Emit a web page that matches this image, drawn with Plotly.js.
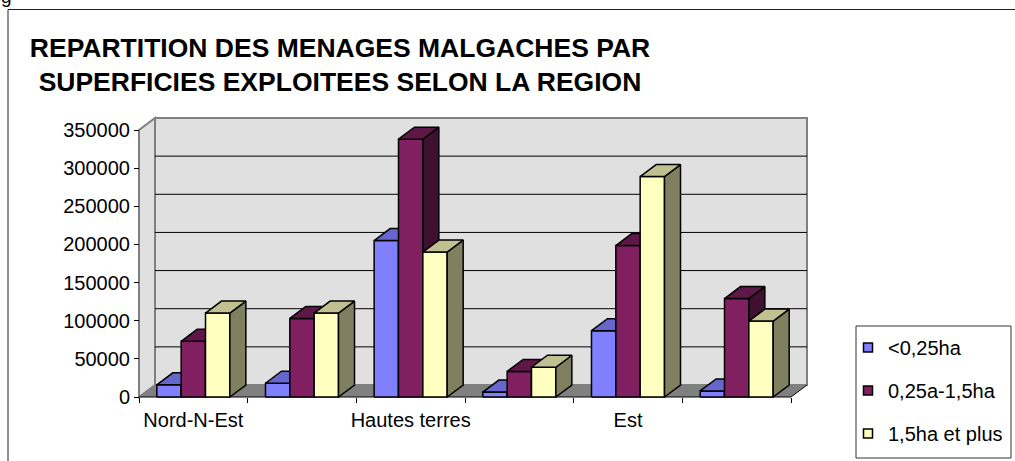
<!DOCTYPE html>
<html><head><meta charset="utf-8">
<script src="https://cdn.plot.ly/plotly-3.0.1.min.js"></script>
<style>html,body{margin:0;padding:0;background:#fff}#chart{width:1015px;height:461px}</style>
</head><body><div id="chart"></div>
<script>
// ---------- data ----------
const categories = ['Nord-N-Est', 'Nord-Ouest', 'Hautes terres', 'Moyen-Ouest', 'Est', 'Sud'];
const shownLabelIndex = [0, 2, 4];
const seriesNames = ['<0,25ha', '0,25a-1,5ha', '1,5ha et plus'];
const lessThan025ha = [16000, 18000, 205000, 6500, 87000, 8000];
const from025to15ha = [73000, 103000, 338000, 33500, 198500, 129000];
const over15ha = [110000, 110000, 190000, 39000, 289000, 99500];
const yTickValues = [0, 50000, 100000, 150000, 200000, 250000, 300000, 350000];
const yMax = 350000;

// ---------- styles ----------
const FONT = 'Arial, "Liberation Sans", sans-serif';
const faceColors = [
  {front: '#8080FF', top: '#6666CC', side: '#40408A'},
  {front: '#802060', top: '#5E1848', side: '#401030'},
  {front: '#FFFFC0', top: '#C0C090', side: '#808060'}
];
const seriesValues = [lessThan025ha, from025to15ha, over15ha];

// pixel geometry of the front plane and the 3-D depth
const W = 1015, H = 461;
const frontLeft = 139, frontRight = 791, frontZero = 397, frontTop = 130;
const depthXpx = 16, depthYpx = 12, pad = 3;
const nCat = categories.length;
const pxPerCat = (frontRight - frontLeft) / nCat;
const pxPerUnit = (frontZero - frontTop) / yMax;
const dx = depthXpx / pxPerCat;
const dy = depthYpx / pxPerUnit;
const groupWidth = 0.672;
const barW = groupWidth / seriesValues.length;

const mL = frontLeft - pad, mR = W - (frontRight + depthXpx + pad);
const mT = frontTop - depthYpx - pad, mB = H - (frontZero + pad);
const plotW = W - mL - mR, plotH = H - mT - mB;
const px2paperX = p => (p - mL) / plotW;
const px2paperY = p => (H - mB - p) / plotH;

const xRange = [-0.5 - pad / pxPerCat, nCat - 0.5 + dx + pad / pxPerCat];
const yRange = [-pad / pxPerUnit, yMax + dy + pad / pxPerUnit];

// ---------- bar faces built from the values ----------
const traces = [];
seriesValues.forEach((vals, s) => {
  const fx = [], fy = [], sx = [], sy = [], tx = [], ty = [];
  vals.forEach((v, i) => {
    const x0 = i - groupWidth / 2 + s * barW, x1 = x0 + barW;
    fx.push(x0, x1, x1, x0, x0, null); fy.push(0, 0, v, v, 0, null);
    sx.push(x1, x1 + dx, x1 + dx, x1, x1, null); sy.push(0, dy, v + dy, v, 0, null);
    tx.push(x0, x1, x1 + dx, x0 + dx, x0, null); ty.push(v, v, v + dy, v + dy, v, null);
  });
  const c = faceColors[s];
  const base = {type: 'scatter', mode: 'lines', fill: 'toself', showlegend: false,
    hoverinfo: 'skip', line: {color: '#000', width: 1.5}};
  traces.push(Object.assign({}, base, {x: fx, y: fy, fillcolor: c.front, name: seriesNames[s]}));
  traces.push(Object.assign({}, base, {x: sx, y: sy, fillcolor: c.side, name: seriesNames[s]}));
  traces.push(Object.assign({}, base, {x: tx, y: ty, fillcolor: c.top, name: seriesNames[s]}));
});
// legend entries
seriesNames.forEach((n, s) => {
  traces.push({type: 'scatter', mode: 'markers', x: [null], y: [null], name: n,
    legendgroup: 'g' + s, showlegend: true, hoverinfo: 'skip',
    marker: {symbol: 'square', size: 9, color: faceColors[s].front, line: {color: '#000', width: 1.5}}});
});

// ---------- walls, floor, gridlines ----------
const L = -0.5, R = nCat - 0.5;
const shapes = [];
shapes.push({type: 'rect', xref: 'x', yref: 'y', layer: 'below', x0: L + dx, x1: R + dx, y0: dy, y1: yMax + dy,
  fillcolor: '#E0E0E0', line: {color: '#808080', width: 2}});
shapes.push({type: 'path', xref: 'x', yref: 'y', layer: 'below',
  path: `M${L},0 L${L},${yMax} L${L + dx},${yMax + dy} L${L + dx},${dy} Z`,
  fillcolor: '#E0E0E0', line: {color: '#808080', width: 2}});
yTickValues.filter(v => v > 0 && v < yMax).forEach(v => {
  shapes.push({type: 'line', xref: 'x', yref: 'y', layer: 'below', x0: L + dx, x1: R + dx, y0: v + dy, y1: v + dy,
    line: {color: '#000', width: 1}});
});
shapes.push({type: 'path', xref: 'x', yref: 'y', layer: 'below',
  path: `M${L},0 L${R},0 L${R + dx},${dy} L${L + dx},${dy} Z`,
  fillcolor: '#808080', line: {width: 0}});
shapes.push({type: 'path', xref: 'x', yref: 'y', layer: 'below',
  path: `M${L},0 L${R},0 L${R + dx},${dy}`, line: {color: '#000', width: 1}});
// legend frame and outer frame
shapes.push({type: 'rect', xref: 'paper', yref: 'paper', layer: 'above',
  x0: px2paperX(856), x1: px2paperX(1011), y0: px2paperY(458), y1: px2paperY(326),
  line: {color: '#333', width: 1}, fillcolor: 'rgba(0,0,0,0)'});
shapes.push({type: 'rect', xref: 'paper', yref: 'paper', layer: 'above',
  x0: px2paperX(8), x1: px2paperX(1030), y0: px2paperY(480), y1: px2paperY(9.5),
  line: {color: '#222', width: 1}, fillcolor: 'rgba(0,0,0,0)'});

const boundaries = categories.map((_, i) => i - 0.5).concat([nCat - 0.5]);

const layout = {
  width: W, height: H,
  margin: {l: mL, r: mR, t: mT, b: mB, pad: 0},
  paper_bgcolor: '#fff', plot_bgcolor: 'rgba(0,0,0,0)',
  font: {family: FONT, size: 20, color: '#000'},
  title: {
    text: 'REPARTITION DES MENAGES MALGACHES PAR<br>SUPERFICIES EXPLOITEES SELON LA REGION',
    font: {family: FONT, size: 26.5, color: '#000', weight: 'bold'},
    x: 340 / W, xref: 'container', xanchor: 'center',
    y: 1 - 57 / H, yref: 'container', yanchor: 'top'
  },
  annotations: [{
    text: 'g', xref: 'paper', yref: 'paper', x: px2paperX(-1), y: px2paperY(9),
    xanchor: 'left', yanchor: 'bottom', showarrow: false,
    font: {family: FONT, size: 19, color: '#000'}
  }],
  xaxis: {
    type: 'linear', range: xRange, anchor: 'free', position: pad / plotH,
    tickmode: 'array', tickvals: shownLabelIndex, ticktext: shownLabelIndex.map(i => categories[i]),
    ticks: 'outside', ticklen: 5, tickcolor: 'rgba(0,0,0,0)',
    minor: {tickmode: 'array', tickvals: boundaries, ticks: 'outside', ticklen: 5, tickcolor: '#000', tickwidth: 1, showgrid: false},
    showgrid: false, zeroline: false, showline: false,
    tickfont: {family: FONT, size: 20, color: '#000'}, fixedrange: true
  },
  yaxis: {
    type: 'linear', range: yRange, anchor: 'free', position: pad / plotW,
    tickmode: 'array', tickvals: yTickValues, ticktext: yTickValues.map(v => String(v)),
    ticks: 'outside', ticklen: 5, tickcolor: '#000', tickwidth: 1,
    showgrid: false, zeroline: false, showline: false,
    tickfont: {family: FONT, size: 20, color: '#000'}, fixedrange: true
  },
  legend: {
    xref: 'container', yref: 'container', x: 848 / W, y: 1 - 328 / H, xanchor: 'left', yanchor: 'top',
    bgcolor: 'rgba(0,0,0,0)', borderwidth: 0, tracegroupgap: 14,
    font: {family: FONT, size: 20, color: '#000'}, traceorder: 'grouped'
  },
  shapes: shapes,
  showlegend: true
};

Plotly.newPlot('chart', traces, layout, {staticPlot: true, displayModeBar: false});
</script></body></html>
